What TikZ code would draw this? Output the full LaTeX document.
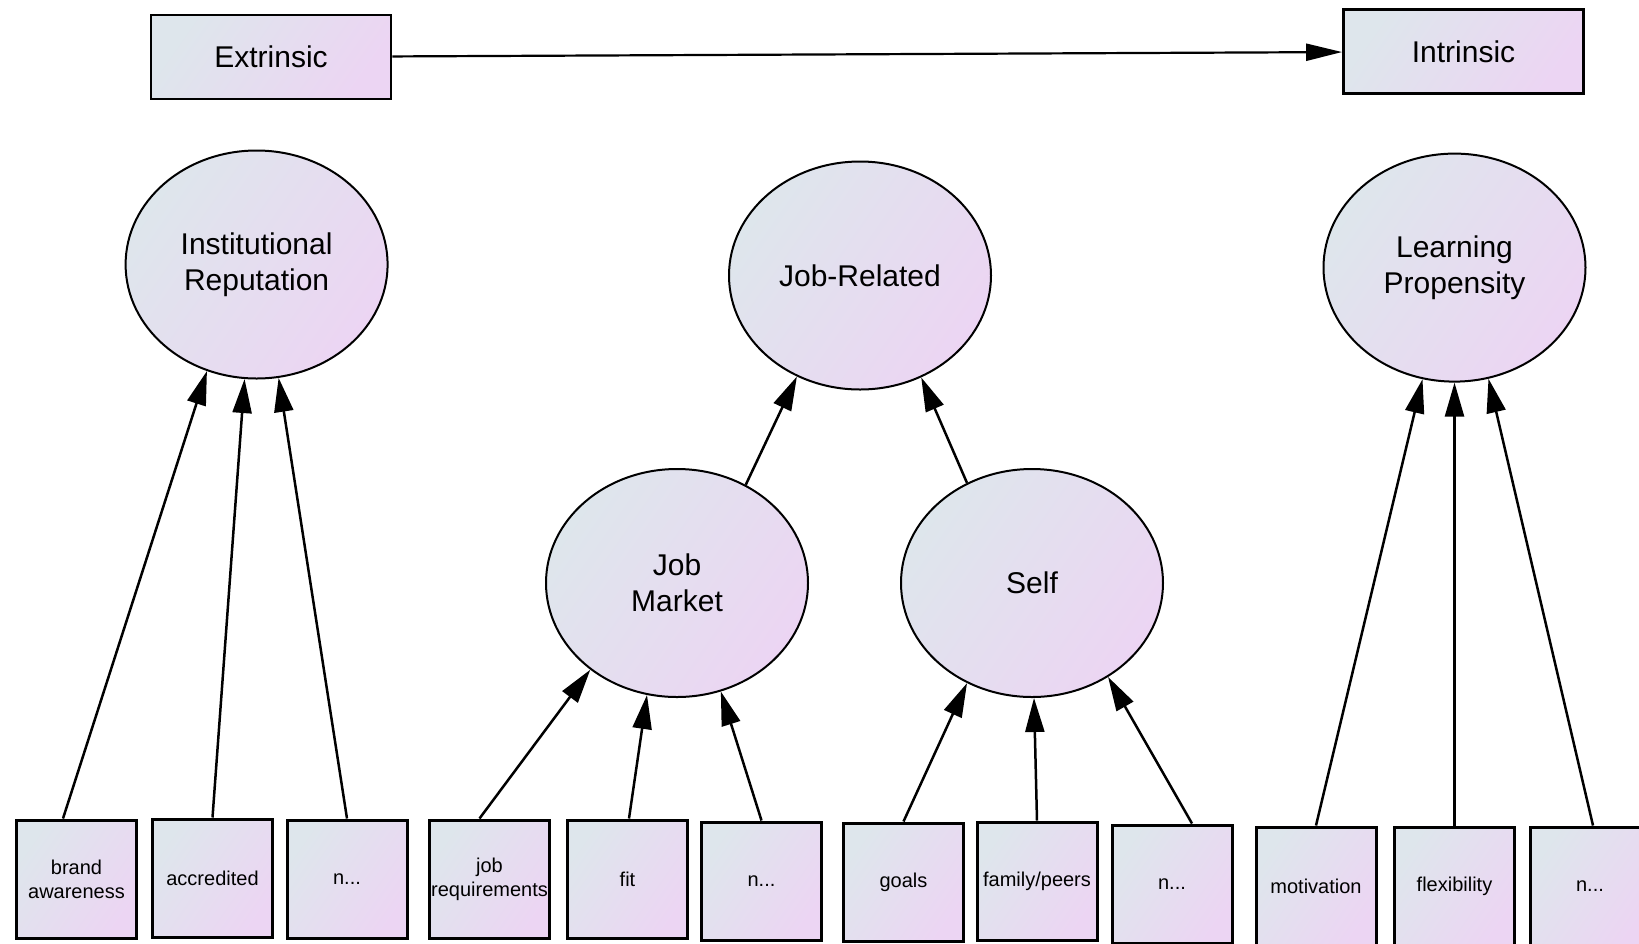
\documentclass[tikz,border=0pt]{standalone}
\usepackage{fontspec}
\setmainfont{Liberation Sans}
\usepackage{tikz}
\usetikzlibrary{arrows.meta,shapes.geometric}
\definecolor{fillA}{RGB}{222,230,236}
\definecolor{fillB}{RGB}{236,213,243}

\begin{document}
\begin{tikzpicture}[
    x=0.5pt,y=-0.5pt,
    level/.style={draw,line width=1.4pt,left color=fillA,right color=fillB,shading angle=55,minimum width=120pt,minimum height=42pt,inner sep=0pt,font=\fontsize{15}{18}\selectfont},
    factor/.style={ellipse,draw,line width=1pt,left color=fillA,right color=fillB,shading angle=55,minimum width=131pt,minimum height=114pt,inner sep=0pt,align=center,font=\fontsize{15}{18}\selectfont},
    item/.style={draw,line width=1.5pt,left color=fillA,right color=fillB,shading angle=55,minimum width=60pt,minimum height=59pt,inner sep=0pt,align=center,font=\fontsize{10}{12}\selectfont},
    load/.style={-{Triangle[length=17pt,width=9.5pt]},line width=1.25pt}
  ]
    \useasboundingbox (0,0) rectangle (1639,943);

    \node[level] (ext) at (271,57) {Extrinsic};
    \node[level] (intr) at (1463.5,51.5) {Intrinsic};
    \draw[-{Triangle[length=18pt,width=8.5pt]},line width=1.1pt] (ext) -- (intr);

    \node[factor] (instrep) at (256.6,264.5) {Institutional\\Reputation};
    \node[factor] (jobrel) at (860,275.5) {Job-Related};
    \node[factor] (learn) at (1454.5,267.6) {Learning\\Propensity};
    \node[factor] (jobmkt) at (677,583) {Job\\Market};
    \node[factor] (self) at (1032,583) {Self};

    \node[item] (brand) at (76.5,879) {brand\\awareness};
    \node[item] (accred) at (212.5,878) {accredited};
    \node[item] (irN) at (347,879) {n...};
    \node[item] (jobreq) at (489.5,879) {job\\requirements};
    \node[item] (fit) at (627.5,879) {fit};
    \node[item] (jmN) at (761.5,881) {n...};
    \node[item] (goals) at (903.5,882) {goals};
    \node[item] (family) at (1037,881) {family/peers};
    \node[item] (selfN) at (1172,884) {n...};
    \node[item] (motiv) at (1316,886) {motivation};
    \node[item] (flexi) at (1454.5,886) {flexibility};
    \node[item] (lpN) at (1590,886) {n...};

    \draw[load] ([xshift=-6.75pt]brand.north) -- (instrep.245);
    \draw[load] (accred.north) -- (instrep.264.5);
    \draw[load] (irN.north) -- (instrep.281);

    \draw[load] ([xshift=-5pt]jobreq.north) -- (jobmkt.225);
    \draw[load] ([xshift=0.75pt]fit.north) -- (jobmkt.255.5);
    \draw[load] (jmN.north) -- (jobmkt.292.7);

    \draw[load] (goals.north) -- (self.237.5);
    \draw[load] (family.north) -- (self.271.5);
    \draw[load] ([xshift=10pt]selfN.north) -- (self.309);

    \draw[load] (motiv.north) -- (learn.254);
    \draw[load] (flexi.north) -- (learn.270);
    \draw[load] ([xshift=1.5pt]lpN.north) -- (learn.287);

    \draw[load] (jobmkt.55) -- (jobrel.238);
    \draw[load] (self.123) -- (jobrel.301);
  \end{tikzpicture}
\end{document}
